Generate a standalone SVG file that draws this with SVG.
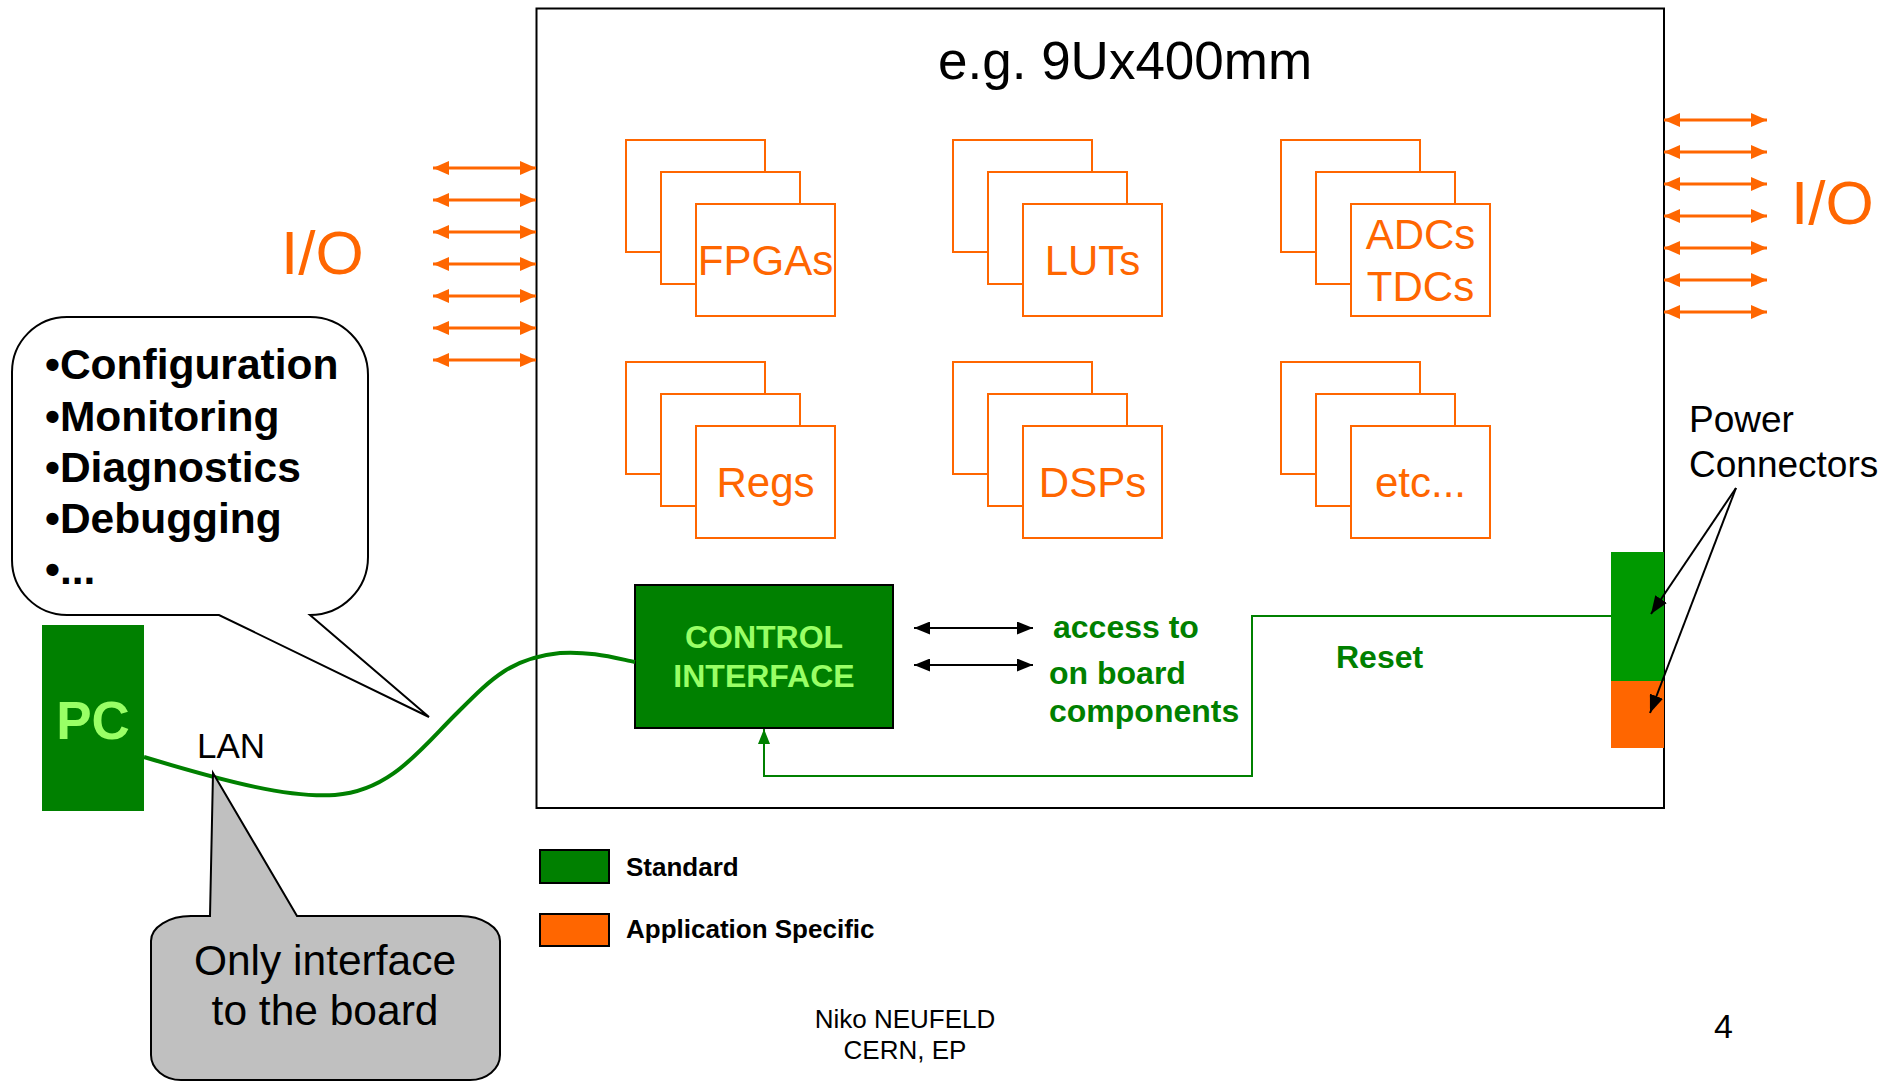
<svg xmlns="http://www.w3.org/2000/svg" width="1899" height="1081" viewBox="0 0 1899 1081">
  <style>
    text { font-family: "Liberation Sans", Arial, sans-serif; }
    .board { fill: #ffffff; stroke: #000000; stroke-width: 2; }
    .chip { fill: #ffffff; stroke: #FF6600; stroke-width: 2; }
    .chiptxt { fill: #FF6600; font-size: 42px; text-anchor: middle; }
    .io { stroke: #FF6600; stroke-width: 3; fill: none; marker-start: url(#oarrow); marker-end: url(#oarrow); }
    .iotxt { fill: #FF6600; font-size: 62px; }
    .bus { stroke: #000000; stroke-width: 2; fill: none; marker-start: url(#karrow); marker-end: url(#karrow); }
    .gtxt { fill: #008000; font-size: 32px; font-weight: bold; }
    .bullet { fill: #000000; font-size: 42.5px; font-weight: bold; }
    .legtxt { fill: #000000; font-size: 26px; font-weight: bold; }
    .plain { fill: #000000; }
  </style>
  <defs>
    <marker id="oarrow" markerUnits="userSpaceOnUse" markerWidth="16" markerHeight="14" refX="16" refY="7" orient="auto-start-reverse">
      <path d="M0,0 L16,7 L0,14 Z" fill="#FF6600"/>
    </marker>
    <marker id="karrow" markerUnits="userSpaceOnUse" markerWidth="16" markerHeight="13" refX="16" refY="6.5" orient="auto-start-reverse">
      <path d="M0,0 L16,6.5 L0,13 Z" fill="#000000"/>
    </marker>
    <marker id="parrow" markerUnits="userSpaceOnUse" markerWidth="18" markerHeight="14" refX="18" refY="7" orient="auto">
      <path d="M0,0 L18,7 L0,14 Z" fill="#000000"/>
    </marker>
    <marker id="garrow" markerUnits="userSpaceOnUse" markerWidth="15" markerHeight="12" refX="15" refY="6" orient="auto">
      <path d="M0,0 L15,6 L0,12 Z" fill="#008000"/>
    </marker>
  </defs>

  <!-- board outline and size label -->
  <g id="board">
    <rect class="board" x="536.5" y="8.5" width="1127.5" height="799.5"/>
    <text x="938" y="79" font-size="53" class="plain">e.g. 9Ux400mm</text>
  </g>

  <!-- on-board component stacks -->
  <g id="fpgas">
    <rect class="chip" x="626" y="140" width="139" height="112"/>
    <rect class="chip" x="661" y="172" width="139" height="112"/>
    <rect class="chip" x="696" y="204" width="139" height="112"/>
    <text class="chiptxt" x="765.5" y="275">FPGAs</text>
  </g>
  <g id="luts">
    <rect class="chip" x="953" y="140" width="139" height="112"/>
    <rect class="chip" x="988" y="172" width="139" height="112"/>
    <rect class="chip" x="1023" y="204" width="139" height="112"/>
    <text class="chiptxt" x="1092.5" y="275">LUTs</text>
  </g>
  <g id="adcs">
    <rect class="chip" x="1281" y="140" width="139" height="112"/>
    <rect class="chip" x="1316" y="172" width="139" height="112"/>
    <rect class="chip" x="1351" y="204" width="139" height="112"/>
    <text class="chiptxt" x="1420.5" y="249">ADCs</text>
    <text class="chiptxt" x="1420.5" y="301">TDCs</text>
  </g>
  <g id="regs">
    <rect class="chip" x="626" y="362" width="139" height="112"/>
    <rect class="chip" x="661" y="394" width="139" height="112"/>
    <rect class="chip" x="696" y="426" width="139" height="112"/>
    <text class="chiptxt" x="765.5" y="497">Regs</text>
  </g>
  <g id="dsps">
    <rect class="chip" x="953" y="362" width="139" height="112"/>
    <rect class="chip" x="988" y="394" width="139" height="112"/>
    <rect class="chip" x="1023" y="426" width="139" height="112"/>
    <text class="chiptxt" x="1092.5" y="497">DSPs</text>
  </g>
  <g id="etc">
    <rect class="chip" x="1281" y="362" width="139" height="112"/>
    <rect class="chip" x="1316" y="394" width="139" height="112"/>
    <rect class="chip" x="1351" y="426" width="139" height="112"/>
    <text class="chiptxt" x="1420.5" y="497">etc...</text>
  </g>

  <!-- control interface block -->
  <g id="control-interface">
    <rect x="635" y="585" width="258" height="143" fill="#008000" stroke="#000000" stroke-width="2"/>
    <text x="764" y="648" font-size="32" font-weight="bold" fill="#99FF66" text-anchor="middle">CONTROL</text>
    <text x="764" y="687" font-size="32" font-weight="bold" fill="#99FF66" text-anchor="middle">INTERFACE</text>
  </g>

  <g id="access-label">
    <text class="gtxt" x="1053" y="638">access to</text>
    <text class="gtxt" x="1049" y="684">on board</text>
    <text class="gtxt" x="1049" y="722">components</text>
  </g>
  <g id="reset-label">
    <text class="gtxt" x="1336" y="668">Reset</text>
  </g>

  <!-- power connectors on the board edge -->
  <g id="power-connectors">
    <rect x="1611" y="552" width="53" height="129" fill="#009900"/>
    <rect x="1611" y="681" width="53" height="67" fill="#FF6600"/>
    <text x="1689" y="432" font-size="37" class="plain">Power</text>
    <text x="1689" y="477" font-size="37" class="plain">Connectors</text>
  </g>

  <!-- host PC -->
  <g id="pc">
    <rect x="42" y="625" width="102" height="186" fill="#008000"/>
    <text x="93" y="739" font-size="53" font-weight="bold" fill="#99FF66" text-anchor="middle">PC</text>
  </g>
  <g id="lan-label">
    <text x="197" y="758" font-size="35" class="plain">LAN</text>
  </g>

  <!-- I/O labels -->
  <g id="io-left-label"><text class="iotxt" x="281" y="274">I/O</text></g>
  <g id="io-right-label"><text class="iotxt" x="1791" y="224">I/O</text></g>

  <!-- callout listing the control tasks -->
  <g id="tasks-callout">
    <path d="M67,317 H310 A58,58 0 0 1 368,375 V557 A58,58 0 0 1 310,615 L429,717 L219,615 H67 A55,55 0 0 1 12,560 V372 A55,55 0 0 1 67,317 Z" fill="#ffffff" stroke="#000000" stroke-width="2"/>
    <text class="bullet" x="45" y="379">•Configuration</text>
    <text class="bullet" x="45" y="431">•Monitoring</text>
    <text class="bullet" x="45" y="482">•Diagnostics</text>
    <text class="bullet" x="45" y="533">•Debugging</text>
    <text class="bullet" x="45" y="584">•...</text>
  </g>

  <!-- connectors -->
  <g id="connectors">
    <!-- LAN cable -->
    <path d="M144,757 C230,783 290,798 335,795 C390,791 420,750 455,715 C490,680 510,658 560,653 C590,651 615,658 635,662" fill="none" stroke="#008000" stroke-width="4"/>
    <!-- reset line from power connector back to the control interface -->
    <path d="M1611,616 H1252 V776 H764 V729" fill="none" stroke="#008000" stroke-width="2" marker-end="url(#garrow)"/>
    <!-- control interface to on-board components -->
    <line class="bus" x1="914" y1="628" x2="1033" y2="628"/>
    <line class="bus" x1="914" y1="665" x2="1033" y2="665"/>
    <!-- power connector pointers -->
    <line x1="1736" y1="488" x2="1651" y2="614" stroke="#000000" stroke-width="2" marker-end="url(#parrow)"/>
    <line x1="1736" y1="488" x2="1650" y2="713" stroke="#000000" stroke-width="2" marker-end="url(#parrow)"/>
    <!-- left I/O lines -->
    <line class="io" x1="433" y1="168" x2="536" y2="168"/>
    <line class="io" x1="433" y1="200" x2="536" y2="200"/>
    <line class="io" x1="433" y1="232" x2="536" y2="232"/>
    <line class="io" x1="433" y1="264" x2="536" y2="264"/>
    <line class="io" x1="433" y1="296" x2="536" y2="296"/>
    <line class="io" x1="433" y1="328" x2="536" y2="328"/>
    <line class="io" x1="433" y1="360" x2="536" y2="360"/>
    <!-- right I/O lines -->
    <line class="io" x1="1664" y1="120" x2="1767" y2="120"/>
    <line class="io" x1="1664" y1="152" x2="1767" y2="152"/>
    <line class="io" x1="1664" y1="184" x2="1767" y2="184"/>
    <line class="io" x1="1664" y1="216" x2="1767" y2="216"/>
    <line class="io" x1="1664" y1="248" x2="1767" y2="248"/>
    <line class="io" x1="1664" y1="280" x2="1767" y2="280"/>
    <line class="io" x1="1664" y1="312" x2="1767" y2="312"/>
  </g>

  <!-- callout on the LAN cable -->
  <g id="lan-callout">
    <path d="M191,916 H210 L213,773 L297,916 H460 A40,25 0 0 1 500,941 V1055 A30,25 0 0 1 470,1080 H181 A30,25 0 0 1 151,1055 V941 A40,25 0 0 1 191,916 Z" fill="#C0C0C0" stroke="#000000" stroke-width="2"/>
    <text x="325" y="975" font-size="42.5" text-anchor="middle" class="plain">Only interface</text>
    <text x="325" y="1025" font-size="42.5" text-anchor="middle" class="plain">to the board</text>
  </g>

  <!-- colour legend -->
  <g id="legend">
    <rect x="540" y="850" width="69" height="33" fill="#008000" stroke="#000000" stroke-width="2"/>
    <text class="legtxt" x="626" y="876">Standard</text>
    <rect x="540" y="914" width="69" height="32" fill="#FF6600" stroke="#000000" stroke-width="2"/>
    <text class="legtxt" x="626" y="938">Application Specific</text>
  </g>

  <!-- footer -->
  <g id="footer">
    <text x="905" y="1028" font-size="26" text-anchor="middle" class="plain">Niko NEUFELD</text>
    <text x="905" y="1059" font-size="26" text-anchor="middle" class="plain">CERN, EP</text>
    <text x="1714" y="1038" font-size="34" class="plain">4</text>
  </g>
</svg>
